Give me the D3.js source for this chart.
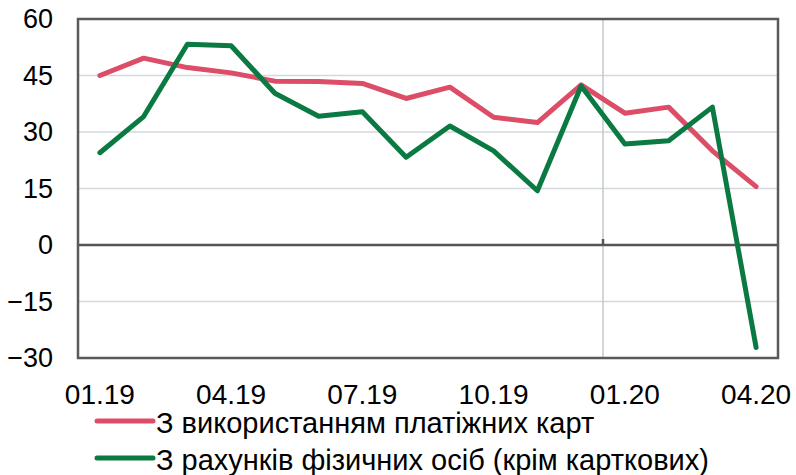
<!DOCTYPE html>
<html>
<head>
<meta charset="utf-8">
<style>
	body { margin: 0; background: #fff; }
	text { font-family: "Liberation Sans", Arial, sans-serif; fill: #000; }
	.grid line { stroke: #d3d8db; stroke-width: 1.5px; }
	.series { fill: none; stroke-width: 5px; stroke-linejoin: round; stroke-linecap: round; }
</style>
</head>
<body>
<div id="chart"></div>
<script src="https://cdn.jsdelivr.net/npm/d3@7"></script>
<script>
	// months on x axis
	const months = ["01.19", "02.19", "03.19", "04.19", "05.19", "06.19", "07.19", "08.19",
		"09.19", "10.19", "11.19", "12.19", "01.20", "02.20", "03.20", "04.20"];
	const tickLabels = ["01.19", "04.19", "07.19", "10.19", "01.20", "04.20"];
	const yTicks = [-30, -15, 0, 15, 30, 45, 60];

	// series values, % y/y
	const cards = [45.0, 49.6, 47.1, 45.7, 43.5, 43.4, 42.9, 38.9, 41.9, 33.9, 32.5, 42.5, 35.0, 36.6, 25.0, 15.5];
	const accounts = [24.5, 34.1, 53.3, 52.9, 40.3, 34.2, 35.4, 23.3, 31.6, 25.0, 14.4, 42.2, 26.8, 27.7, 36.6, -27.2];

	const seriesNames = ["З використанням платіжних карт", "З рахунків фізичних осіб (крім карткових)"];
	const colors = ["#dc4d67", "#0a7a42"];

	const W = 796, H = 475;
	const margin = { top: 19, right: 18, bottom: 117, left: 78 };
	const width = W - margin.left - margin.right;
	const height = H - margin.top - margin.bottom;

	const svg = d3.select("#chart").append("svg")
		.attr("width", W)
		.attr("height", H);

	const g = svg.append("g")
		.attr("transform", `translate(${margin.left},${margin.top})`);

	const x = d3.scaleBand().domain(months).range([0, width]).padding(0);
	const y = d3.scaleLinear().domain([-30, 60]).range([height, 0]);

	// horizontal gridlines
	g.append("g").attr("class", "grid")
		.selectAll("line")
		.data(yTicks.filter(d => d !== 0 && d !== 60 && d !== -30))
		.join("line")
		.attr("x1", 0).attr("x2", width)
		.attr("y1", d => y(d)).attr("y2", d => y(d));

	// vertical separator before 01.20
	const sepX = x("01.20");
	g.append("line")
		.attr("x1", sepX).attr("x2", sepX)
		.attr("y1", 0).attr("y2", height)
		.attr("stroke", "#c4c9cc").attr("stroke-width", 1.5);

	// zero line with a small tick
	g.append("line")
		.attr("x1", 0).attr("x2", width)
		.attr("y1", y(0)).attr("y2", y(0))
		.attr("stroke", "#555").attr("stroke-width", 2.5);
	g.append("line")
		.attr("x1", sepX).attr("x2", sepX)
		.attr("y1", y(0) - 6).attr("y2", y(0))
		.attr("stroke", "#555").attr("stroke-width", 2.5);

	// frame
	g.append("rect")
		.attr("width", width).attr("height", height)
		.attr("fill", "none").attr("stroke", "#5a5a5a").attr("stroke-width", 2.5);

	// y axis labels
	const yAxis = g.append("g")
		.call(d3.axisLeft(y).tickValues(yTicks).tickSize(0).tickPadding(25));
	yAxis.select(".domain").remove();
	yAxis.selectAll("text")
		.style("font-family", "'Liberation Sans', Arial, sans-serif")
		.style("font-size", "27px")
		.attr("fill", "#000");

	// x axis labels
	const xAxis = g.append("g")
		.attr("transform", `translate(0,${height})`)
		.call(d3.axisBottom(x).tickValues(tickLabels).tickSize(0).tickPadding(26));
	xAxis.select(".domain").remove();
	xAxis.selectAll("text")
		.style("font-family", "'Liberation Sans', Arial, sans-serif")
		.style("font-size", "28px")
		.attr("fill", "#000");

	const line = d3.line()
		.x((d, i) => x(months[i]) + x.bandwidth() / 2)
		.y(d => y(d));

	[cards, accounts].forEach((vals, i) => {
		g.append("path")
			.datum(vals)
			.attr("class", "series")
			.attr("stroke", colors[i])
			.attr("d", line);
	});

	// legend
	const legend = svg.append("g").attr("transform", "translate(97,421)");
	seriesNames.forEach((name, i) => {
		const row = legend.append("g").attr("transform", `translate(0,${i * 37})`);
		row.append("line")
			.attr("x1", 0).attr("x2", 56)
			.attr("stroke", colors[i]).attr("stroke-width", 5)
			.attr("stroke-linecap", "round");
		row.append("text")
			.attr("x", 59).attr("y", 12)
			.style("font-size", "29px")
			.text(name);
	});
</script>
</body>
</html>
